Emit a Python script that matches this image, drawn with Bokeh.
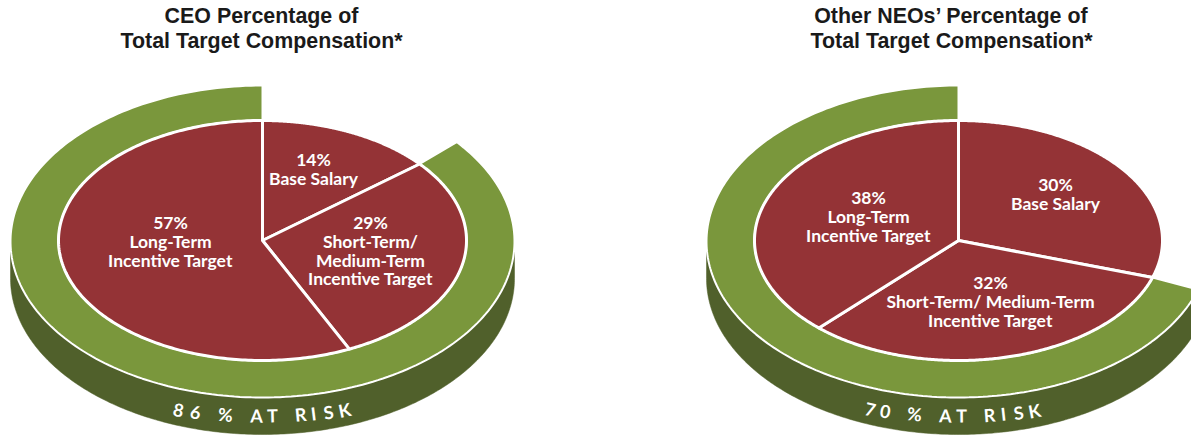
import numpy as np
from bokeh.plotting import figure
from bokeh.models import Range1d
from bokeh.core.properties import value
from bokeh.embed import file_html
from bokeh.resources import INLINE

ceo_title = ["CEO Percentage of", "Total Target Compensation*"]
neo_title = ["Other NEOs\u2019 Percentage of", "Total Target Compensation*"]
ceo_values = [14, 29, 57]
neo_values = [30, 32, 38]
ceo_labels = [["14%", "Base Salary"], ["29%", "Short-Term/", "Medium-Term", "Incentive Target"], ["57%", "Long-Term", "Incentive Target"]]
neo_labels = [["30%", "Base Salary"], ["32%", "Short-Term/ Medium-Term", "Incentive Target"], ["38%", "Long-Term", "Incentive Target"]]
ceo_risk = "86 % AT RISK"
neo_risk = "70 % AT RISK"

RED, GREEN, DARK = "#943336", "#7a973c", "#50602b"
RX, RY, ORX, ORY, DEPTH = 204, 120, 252, 156, 37

p = figure(width=1191, height=435, output_backend="svg", toolbar_location=None,
           x_range=Range1d(0, 1191), y_range=Range1d(435, 0), min_border=0)
p.axis.visible = False
p.grid.visible = False
p.outline_line_color = None


def arc(cx, cy, rx, ry, a0, a1, n=240):
    t = np.radians(np.linspace(a0, a1, n))
    return cx + rx * np.sin(t), cy - ry * np.cos(t)


def pie(cx, values, labels, label_xy, risk, risk_dx):
    cy, ocy = 240, 241
    start = values[0] * 3.6
    wall0 = max(start, 90)
    xa, ya = arc(cx, ocy, ORX, ORY, wall0, 270)
    p.patch(np.r_[xa, xa[::-1]], np.r_[ya, ya[::-1] + DEPTH], fill_color=DARK, line_color=DARK, line_width=0.5)
    xo, yo = arc(cx, ocy, ORX, ORY, start, 360)
    xi, yi = arc(cx, cy, RX, RY, start, 360)
    p.patch(np.r_[xo, xi[::-1]], np.r_[yo, yi[::-1]], fill_color=GREEN, line_color="white", line_width=2)
    cum = 0
    for v in values:
        x, y = arc(cx, cy, RX, RY, cum * 3.6, (cum + v) * 3.6)
        p.patch(np.r_[cx, x], np.r_[cy, y], fill_color=RED, line_color="white", line_width=3, line_join="round")
        cum += v
    for lines, (lx, ly) in zip(labels, label_xy):
        for i, line in enumerate(lines):
            p.text([lx], [ly + i * 18.8], text=[line], text_color="white", text_align="center",
                   text_baseline="middle", text_font=value("Lato"), text_font_style="bold", text_font_size="17.5px")
    glyphs = [c for c in risk if c != " "]
    for ch, dx in zip(glyphs, risk_dx):
        s = dx / 328
        c = np.sqrt(1 - s * s)
        R = 174
        ang = 1.5 * np.arctan2(R * s / c / 328, 1)
        p.text([cx + dx], [ocy + R * c], text=[ch], angle=[ang], text_color="white", text_align="center",
               text_baseline="middle", text_font=value("Lato"), text_font_style="bold", text_font_size="18px")


pie(262, ceo_values, ceo_labels, [(313, 159), (370, 222), (170, 222)], ceo_risk,
    [-84, -67, -37, -6, 10, 38, 51, 66, 82])
pie(958, neo_values, neo_labels, [(1055, 184), (990, 282), (868, 197)], neo_risk,
    [-88, -73, -44, -13, 3, 31, 45, 60, 76])

for cx, lines in ((261, ceo_title), (951, neo_title)):
    for i, t in enumerate(lines):
        p.text([cx], [15 + i * 25], text=[t], text_color="#1a1a1a", text_align="center", text_baseline="middle",
               text_font=value("Liberation Sans"), text_font_style="bold", text_font_size="21.4px")

open("out.html", "w").write(file_html(p, INLINE))
